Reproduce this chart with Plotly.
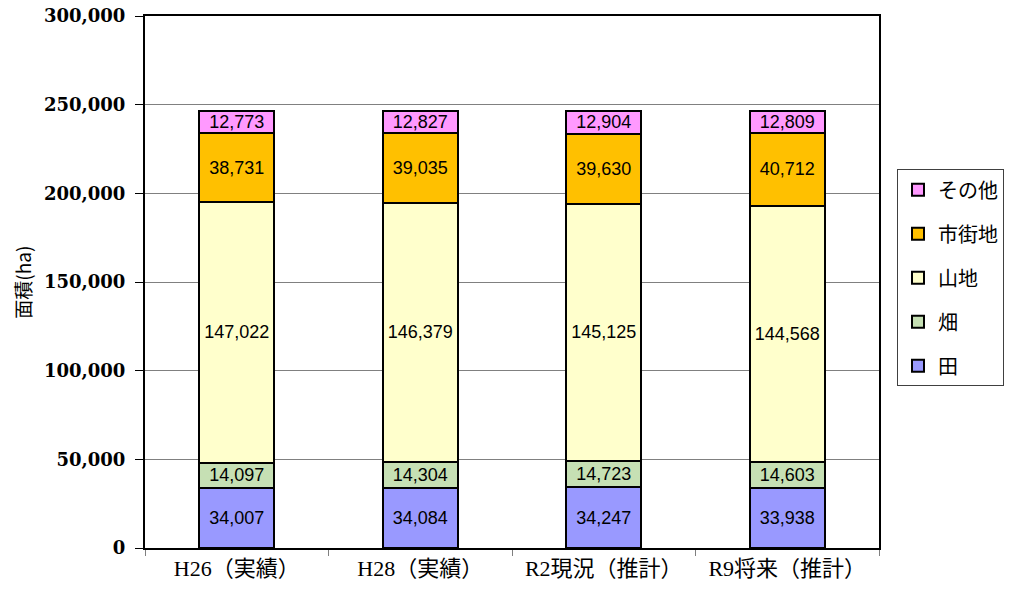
import plotly.graph_objects as go

categories = ["H26（実績）", "H28（実績）", "R2現況（推計）", "R9将来（推計）"]
ta = [34007, 34084, 34247, 33938]
hatake = [14097, 14304, 14723, 14603]
sanchi = [147022, 146379, 145125, 144568]
shigaichi = [38731, 39035, 39630, 40712]
sonota = [12773, 12827, 12904, 12809]

series = [
    ("田", ta, "#9999FF"),
    ("畑", hatake, "#C6E0B4"),
    ("山地", sanchi, "#FFFFCC"),
    ("市街地", shigaichi, "#FFC000"),
    ("その他", sonota, "#FF99FF"),
]

fig = go.Figure()
for i, (name, vals, color) in enumerate(series):
    fig.add_trace(go.Bar(
        x=categories, y=vals, name=name,
        legendgroup=str(i), legendrank=100 - i,
        marker=dict(color=color, line=dict(color="black", width=2)),
        text=vals, texttemplate="%{y:,}",
        textposition="inside", insidetextanchor="middle",
        textangle=0, constraintext="none",
        textfont=dict(family="Liberation Sans, Noto Sans CJK JP", size=18, color="black"),
    ))

fig.update_layout(
    barmode="stack",
    bargap=0.59,
    width=1021, height=596,
    margin=dict(l=145, r=142, t=16, b=48, autoexpand=False),
    plot_bgcolor="white", paper_bgcolor="white",
    font=dict(family="Noto Sans CJK JP", color="black"),
    showlegend=True,
    legend=dict(
        x=1.0245, y=0.712, xanchor="left", yanchor="top",
        traceorder="grouped", tracegroupgap=15,
        bordercolor="#404040", borderwidth=1,
        font=dict(family="Noto Sans CJK JP", size=20, color="black"),
        itemwidth=30,
    ),
    uniformtext=dict(minsize=14, mode="show"),
)

# y axis title as an annotation so it lands where the original has it
fig.add_annotation(
    text="面積(ha)", xref="paper", yref="paper", x=-0.168, y=0.5,
    textangle=-90, showarrow=False, xanchor="center", yanchor="middle",
    font=dict(family="Noto Sans CJK JP", size=19, color="black"),
)

fig.update_yaxes(
    automargin=False,
    range=[0, 300000], dtick=50000, tickformat=",d",
    showgrid=True, gridcolor="#808080", gridwidth=1,
    showline=True, linecolor="black", linewidth=2, mirror=True,
    ticks="outside", ticklen=8, tickcolor="black", ticklabelstandoff=6,
    tickfont=dict(family="DejaVu Serif", size=18, color="black", weight="bold"),
)
fig.update_xaxes(
    automargin=False,
    showline=True, linecolor="black", linewidth=2, mirror=True,
    ticks="outside", ticklen=6, tickcolor="#808080", tickson="boundaries",
    tickfont=dict(family="Liberation Serif, Noto Sans CJK JP", size=22, color="black"),
)

# drop the default 8px body margin so the figure sits at the page origin
fig.write_html("out.html", config={"displayModeBar": False},
               post_script="document.body.style.margin='0';")
